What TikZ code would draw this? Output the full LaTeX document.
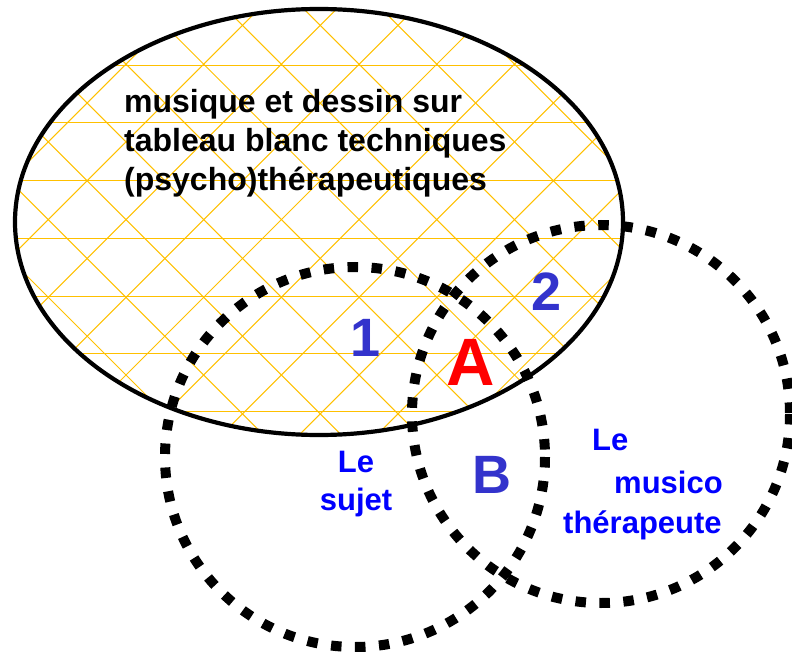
\documentclass[tikz,border=0pt]{standalone}
\usepackage{fontspec}
\setmainfont{Liberation Sans}
\definecolor{hatchyellow}{RGB}{255,192,0}
\definecolor{numblue}{RGB}{51,51,204}
\definecolor{lblblue}{RGB}{0,0,255}
\begin{document}
\begin{tikzpicture}[x=1pt,y=-1pt,
  hatchline/.style={draw=hatchyellow, line width=1pt},
  dotring/.style={draw=black, line width=10pt, dash pattern=on 10.5pt off 13.5pt},
  setring/.style={draw=black, line width=4.2pt},
  maintext/.style={inner sep=0pt, align=left, font=\bfseries\fontsize{32}{39}\selectfont},
  numlabel/.style={inner sep=0pt, text=numblue, font=\bfseries\fontsize{54}{54}\selectfont},
  biglabel/.style={inner sep=0pt, text=red, font=\bfseries\fontsize{67}{67}\selectfont},
  bluelabel/.style={inner sep=0pt, text=lblblue, font=\bfseries\fontsize{31}{38}\selectfont}]
\useasboundingbox (0,0) rectangle (792,652);
% hatched ellipse
\begin{scope}
  \clip (319,222) ellipse [x radius=304, y radius=213];
  \foreach \k in {-6,...,3} \draw[hatchline] (0,{296+57.7*\k}) -- (792,{296+57.7*\k});
  \foreach \k in {-5,...,12} \draw[hatchline] ({345.6+77.7*\k},0) -- ++(-700,700);
  \foreach \k in {-4,...,12} \draw[hatchline] ({-249+77.7*\k},0) -- ++(700,700);
\end{scope}
\draw[setring] (319,222) ellipse [x radius=304, y radius=213];
% dotted circles
\draw[dotring] (355,457) circle [radius=190];
\draw[dotring] (601,414) circle [radius=189];
% texts
\node[maintext, anchor=north west] (title) at (124,89) {musique et dessin sur\\tableau blanc techniques\\(psycho)thérapeutiques};
\node[numlabel, anchor=base] (one) at (366,356) {1};
\node[numlabel, anchor=base] (two) at (546.5,310) {2};
\node[biglabel, anchor=base] (a) at (470.5,385) {A};
\node[numlabel, anchor=base] (b) at (491.5,493) {B};
\node[bluelabel, anchor=base] (le1) at (356,472) {Le};
\node[bluelabel, anchor=base] (sujet) at (356,510) {sujet};
\node[bluelabel, anchor=base west] (le2) at (592,450) {Le};
\node[bluelabel, anchor=base west] (musico) at (614,493) {musico};
\node[bluelabel, anchor=base west] (thera) at (563,533) {thérapeute};
\end{tikzpicture}
\end{document}
